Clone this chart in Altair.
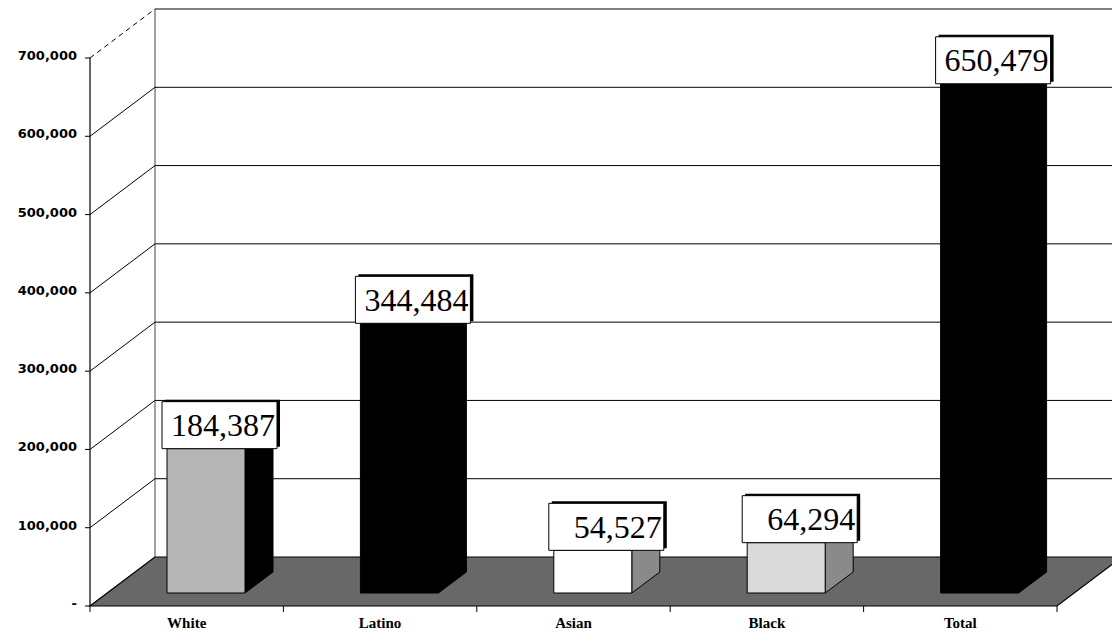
import altair as alt
import pandas as pd

# ---------------- data ----------------
categories = ["White", "Latino", "Asian", "Black", "Total"]
values = [184387, 344484, 54527, 64294, 650479]
value_labels = ["184,387", "344,484", "54,527", "64,294", "650,479"]
y_ticks = [0, 100000, 200000, 300000, 400000, 500000, 600000, 700000]
y_tick_labels = ["-", "100,000", "200,000", "300,000", "400,000", "500,000", "600,000", "700,000"]

# ---------------- styling / pseudo-3D projection ----------------
front_colors = ["#b6b6b6", "#000000", "#ffffff", "#dadada", "#000000"]
side_colors = ["#000000", "#000000", "#8a8a8a", "#8a8a8a", "#000000"]

BAND_PX = 193.4
PLOT_W = 1022
PLOT_H = 597
PX_PER_UNIT = 548 / 700000
XMAX = PLOT_W / BAND_PX
YMAX = PLOT_H / PX_PER_UNIT
DX = 65 / BAND_PX
DY = 49 / PX_PER_UNIT
BASE = 13 / PX_PER_UNIT
FACE_L = 77 / BAND_PX
FACE_R = 155 / BAND_PX
SIDE_DX = 28 / BAND_PX
SIDE_DY = 21 / PX_PER_UNIT
BOX_L = 72 / BAND_PX
BOX_R = 187 / BAND_PX
BOX_H = 47 / PX_PER_UNIT
NCAT = len(categories)

XS = alt.Scale(domain=[0, XMAX], nice=False, zero=False)
YS = alt.Scale(domain=[0, YMAX], nice=False, zero=False)


def X(f="x"):
    return alt.X(f + ":Q", scale=XS, axis=None)


def Y(f="y"):
    return alt.Y(f + ":Q", scale=YS, axis=None)


# floor
floor_df = pd.DataFrame({"y": [0, DY], "x": [0, DX], "x2": [NCAT, NCAT + DX]})
floor = alt.Chart(floor_df).mark_area(
    orient="horizontal", fill="#686868", stroke="black", strokeWidth=1.2
).encode(y=Y(), x=X(), x2=alt.X2("x2:Q"))

# back wall left edge
wall_df = pd.DataFrame({"x": [DX], "y": [DY], "y2": [max(y_ticks) + DY]})
wall = alt.Chart(wall_df).mark_rule(color="#444", strokeWidth=1).encode(
    x=X(), y=Y(), y2=alt.Y2("y2:Q"))

# back wall gridlines
grid_df = pd.DataFrame({"x": DX, "x2": XMAX, "y": [v + DY for v in y_ticks[1:]]})
grid = alt.Chart(grid_df).mark_rule(color="black", strokeWidth=1).encode(
    x=X(), x2=alt.X2("x2:Q"), y=Y())

# side wall diagonals
diag_df = pd.DataFrame({"x": 0.0, "x2": DX, "y": y_ticks[1:-1],
                        "y2": [v + DY for v in y_ticks[1:-1]]})
diag = alt.Chart(diag_df).mark_rule(color="black", strokeWidth=1).encode(
    x=X(), x2=alt.X2("x2:Q"), y=Y(), y2=alt.Y2("y2:Q"))
diag_top_df = pd.DataFrame({"x": [0.0], "x2": [DX], "y": [y_ticks[-1]], "y2": [y_ticks[-1] + DY]})
diag_top = alt.Chart(diag_top_df).mark_rule(color="black", strokeWidth=1, strokeDash=[5, 4]).encode(
    x=X(), x2=alt.X2("x2:Q"), y=Y(), y2=alt.Y2("y2:Q"))

# front y axis
yaxis_df = pd.DataFrame({"x": [0.0], "y": [0], "y2": [max(y_ticks)]})
yaxis = alt.Chart(yaxis_df).mark_rule(color="black", strokeWidth=1.2).encode(
    x=X(), y=Y(), y2=alt.Y2("y2:Q"))
ytick_df = pd.DataFrame({"x": 0.0, "x2": 0.0, "y": y_ticks, "label": y_tick_labels})
yticks = alt.Chart(ytick_df).mark_rule(color="black", strokeWidth=1, xOffset=-5).encode(
    x=X(), x2=alt.X2("x2:Q"), y=Y())
ylabels = alt.Chart(ytick_df).mark_text(
    align="right", baseline="middle", dx=-13, dy=-2, font="DejaVu Sans",
    fontWeight="bold", fontSize=13, color="black"
).encode(x=X(), y=Y(), text="label:N")

# x axis ticks & labels
xtick_df = pd.DataFrame({"x": list(range(NCAT + 1)), "y": 0, "y2": 0})
xticks = alt.Chart(xtick_df).mark_rule(color="black", strokeWidth=1, y2Offset=6).encode(
    x=X(), y=Y(), y2=alt.Y2("y2:Q"))
xlab_df = pd.DataFrame({"x": [i + 0.5 for i in range(NCAT)], "y": 0, "cat": categories})
xlabels = alt.Chart(xlab_df).mark_text(
    align="center", baseline="alphabetic", dy=22, font="Liberation Serif",
    fontWeight="bold", fontSize=15, color="black"
).encode(x=X(), y=Y(), text="cat:N")

# bars: side faces
side_rows = []
for i, (c, v) in enumerate(zip(categories, values)):
    xr = i + FACE_R
    side_rows.append({"cat": c, "x": xr, "y": BASE, "y2": BASE + v})
    side_rows.append({"cat": c, "x": xr + SIDE_DX, "y": BASE + SIDE_DY, "y2": BASE + v + SIDE_DY})
side_df = pd.DataFrame(side_rows)
sides = alt.Chart(side_df).mark_area(stroke="black", strokeWidth=1, orient="vertical").encode(
    x=X(), y=Y(), y2=alt.Y2("y2:Q"), detail="cat:N",
    fill=alt.Fill("cat:N", scale=alt.Scale(domain=categories, range=side_colors), legend=None))

# bars: front faces
bar_df = pd.DataFrame({
    "cat": categories,
    "x": [i + FACE_L for i in range(NCAT)],
    "x2": [i + FACE_R for i in range(NCAT)],
    "y": BASE,
    "y2": [BASE + v for v in values],
})
fronts = alt.Chart(bar_df).mark_rect(stroke="black", strokeWidth=1).encode(
    x=X(), x2=alt.X2("x2:Q"), y=Y(), y2=alt.Y2("y2:Q"),
    fill=alt.Fill("cat:N", scale=alt.Scale(domain=categories, range=front_colors), legend=None))

# label boxes
box_df = pd.DataFrame({
    "cat": categories,
    "label": value_labels,
    "x": [i + BOX_L for i in range(NCAT)],
    "x2": [i + BOX_R for i in range(NCAT)],
    "y": [BASE + v for v in values],
    "y2": [BASE + v + BOX_H for v in values],
    "ym": [BASE + v + BOX_H / 2 for v in values],
})
shadow = alt.Chart(box_df).mark_rect(
    fill="black", xOffset=3, x2Offset=3, yOffset=-2, y2Offset=-2
).encode(x=X(), x2=alt.X2("x2:Q"), y=Y(), y2=alt.Y2("y2:Q"))
boxes = alt.Chart(box_df).mark_rect(fill="white", stroke="black", strokeWidth=1).encode(
    x=X(), x2=alt.X2("x2:Q"), y=Y(), y2=alt.Y2("y2:Q"))
box_text = alt.Chart(box_df).mark_text(
    align="right", baseline="middle", dx=-2, dy=1, font="Liberation Serif",
    fontSize=32, color="black"
).encode(x=alt.X("x2:Q", scale=XS, axis=None), y=Y("ym"), text="label:N")

chart = alt.layer(
    floor, wall, grid, diag, diag_top, yaxis, yticks, ylabels, xticks, xlabels,
    sides, fronts, shadow, boxes, box_text
).resolve_scale(fill="independent").properties(
    width=PLOT_W, height=PLOT_H,
    padding={"left": 82, "top": 1, "right": 0, "bottom": 27},
    autosize=alt.AutoSizeParams(type="none"),
    background="white",
).configure_view(stroke=None)

chart.save("out.html", embed_options={"renderer": "svg", "actions": False})
